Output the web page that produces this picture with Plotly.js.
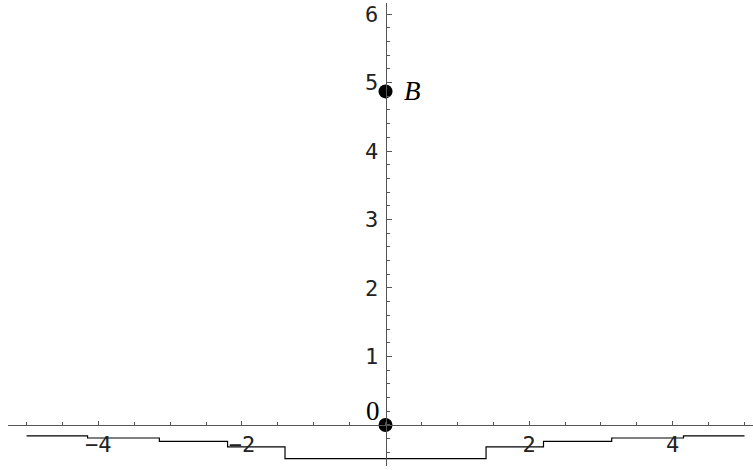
<!DOCTYPE html>
<html>
<head>
<meta charset="utf-8">
<script src="https://cdn.plot.ly/plotly-3.0.1.min.js"></script>
<style>html,body{margin:0;padding:0;background:#fff}#plot{width:753px;height:470px}</style>
</head>
<body>
<div id="plot"></div>
<script>
// Step profile: breakpoints and the level that starts at each breakpoint
const stepX = [-5, -4.15, -3.15, -2.2, -1.4, 1.4, 2.2, 3.15, 4.15, 5];
const stepY = [-0.16, -0.19, -0.24, -0.32, -0.49, -0.32, -0.24, -0.19, -0.16, -0.16];

// Marked points on the vertical axis and their labels
const pointX = [0, 0];
const pointY = [0, 4.87];
const pointLabels = ["0", "<i>B</i>"];
const labelDX = [-0.17, 0.37];
const labelDY = [0.2, 0];

// Axis ticks
const xTickVals = [-4, -2, 2, 4];
const xTickText = ["\u22124", "\u22122", "2", "4"];
const yTickVals = [1, 2, 3, 4, 5, 6];

const xRange = [-5.258, 5.118];
const yRange = [-0.599, 6.161];
const xDomain = [8 / 753, 1];
const yDomain = [4 / 470, 467 / 470];

// place each axis where the other one crosses zero
const xFrac = xDomain[0] + (xDomain[1] - xDomain[0]) * (0 - xRange[0]) / (xRange[1] - xRange[0]);
const yFrac = yDomain[0] + (yDomain[1] - yDomain[0]) * (0 - yRange[0]) / (yRange[1] - yRange[0]);

const axisColor = "#555555";
const tickFont = {family: "DejaVu Sans Mono, monospace", size: 22, color: "#222"};

const traces = [
  {
    x: stepX, y: stepY, type: "scatter", mode: "lines",
    line: {shape: "hv", color: "#000", width: 1.2},
    hoverinfo: "skip"
  },
  {
    x: pointX, y: pointY, type: "scatter", mode: "markers",
    marker: {color: "#000", size: 14},
    hoverinfo: "skip"
  }
];

const annotations = pointLabels.map((t, i) => ({
  x: pointX[i] + labelDX[i], y: pointY[i] + labelDY[i],
  xref: "x", yref: "y", text: t, showarrow: false,
  font: {family: "Liberation Serif, Times New Roman, serif", size: 27, color: "#000"},
  xanchor: "center", yanchor: "middle"
}));

const layout = {
  width: 753, height: 470,
  margin: {l: 0, r: 0, t: 0, b: 0, pad: 0},
  paper_bgcolor: "#fff", plot_bgcolor: "#fff",
  showlegend: false,
  xaxis: {
    range: xRange, domain: xDomain, anchor: "free", position: yFrac,
    showgrid: false, zeroline: false,
    showline: true, linecolor: axisColor, linewidth: 1,
    tickmode: "array", tickvals: xTickVals, ticktext: xTickText,
    ticks: "inside", ticklen: 4, tickcolor: axisColor, tickwidth: 1,
    tickfont: tickFont, ticklabelstandoff: 0,
    minor: {dtick: 0.5, tick0: 0, ticks: "inside", ticklen: 3, tickcolor: axisColor, tickwidth: 1, showgrid: false}
  },
  yaxis: {
    range: yRange, domain: yDomain, anchor: "free", position: xFrac,
    showgrid: false, zeroline: false,
    showline: true, linecolor: axisColor, linewidth: 1,
    tickmode: "array", tickvals: yTickVals,
    ticks: "inside", ticklen: 5, tickcolor: axisColor, tickwidth: 1,
    tickfont: tickFont, ticklabelstandoff: 3,
    minor: {dtick: 0.2, tick0: 0, ticks: "inside", ticklen: 3, tickcolor: axisColor, tickwidth: 1, showgrid: false}
  },
  annotations: annotations
};

Plotly.newPlot("plot", traces, layout, {staticPlot: true, displayModeBar: false});
</script>
</body>
</html>
